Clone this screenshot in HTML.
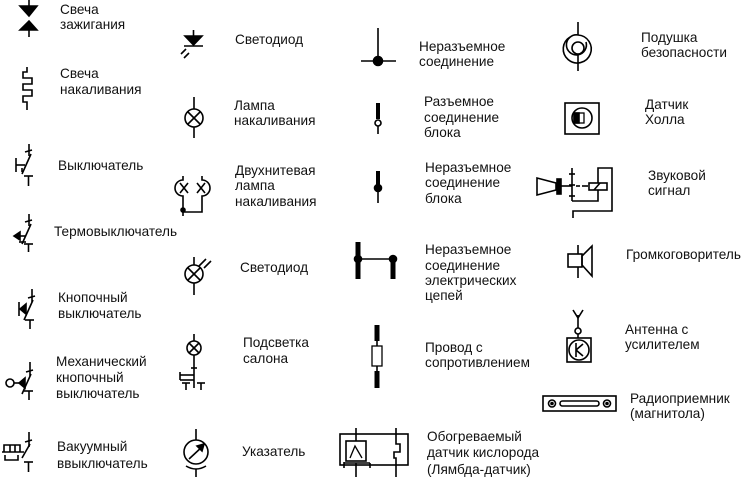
<!DOCTYPE html>
<html><head><meta charset="utf-8"><style>
html,body{margin:0;padding:0;background:#fff;}
svg{display:block}
text{font-family:"Liberation Sans",Arial,sans-serif;font-size:13.6px;fill:#111;}
</style></head><body>
<svg width="746" height="477" viewBox="0 0 746 477" xmlns="http://www.w3.org/2000/svg">
<g stroke="#000" stroke-width="1.6" fill="none">
<line x1="29" y1="0" x2="29" y2="8"/>
<polygon points="20,6 37,6 29,16" fill="#000"/>
<polygon points="20,30 37,30 29,21" fill="#000"/>
<line x1="29" y1="30" x2="29" y2="37"/>
<polyline points="27,67 27,72 23,72 23,78 32,78 32,84 23,84 23,90 32,90 32,96 23,96 23,102 27,102 27,110"/>
<line x1="29" y1="144" x2="29" y2="156"/><line x1="25" y1="152" x2="32" y2="150"/>
<line x1="31" y1="154" x2="22" y2="174"/>
<line x1="16" y1="158" x2="16" y2="172"/><line x1="16" y1="165" x2="25" y2="165"/>
<line x1="22" y1="172" x2="22" y2="168"/>
<line x1="24" y1="176" x2="33" y2="176"/><line x1="28.5" y1="176" x2="28.5" y2="186"/>
<line x1="29" y1="214" x2="29" y2="226"/><line x1="25" y1="222" x2="32" y2="220"/>
<line x1="31" y1="224" x2="22" y2="244"/>
<polygon points="14,236 20,232 20,240" fill="#000"/>
<line x1="20" y1="236" x2="26" y2="236"/><line x1="19" y1="242" x2="26" y2="242"/>
<line x1="24" y1="244" x2="33" y2="244"/><line x1="28.5" y1="244" x2="28.5" y2="252"/>
<line x1="32" y1="289" x2="32" y2="302"/><line x1="28" y1="298" x2="35" y2="296"/>
<line x1="33" y1="300" x2="24" y2="320"/>
<line x1="19" y1="302" x2="19" y2="316"/><polygon points="20,309 26,304 26,314" fill="#000"/>
<line x1="25" y1="320" x2="34" y2="320"/><line x1="30" y1="320" x2="30" y2="329"/>
<line x1="30" y1="362" x2="30" y2="376"/><line x1="26" y1="372" x2="33" y2="370"/>
<line x1="31" y1="374" x2="22" y2="394"/>
<circle cx="10" cy="383" r="4"/><line x1="14" y1="383" x2="19" y2="383"/>
<polygon points="19,383 25,378 25,388" fill="#000"/>
<line x1="24" y1="391" x2="33" y2="391"/><line x1="29" y1="391" x2="29" y2="400"/>
<line x1="29" y1="432" x2="29" y2="447"/><line x1="25" y1="442" x2="32" y2="440"/>
<line x1="30" y1="444" x2="22" y2="458"/>
<polyline points="4,452 4,445 20,445 20,452"/><line x1="2" y1="452" x2="24" y2="452"/>
<line x1="10" y1="445" x2="10" y2="452"/><line x1="15" y1="445" x2="15" y2="452"/>
<polyline points="5,455 5,460 18,460 18,455"/>
<line x1="24" y1="462" x2="33" y2="462"/><line x1="28.5" y1="462" x2="28.5" y2="472"/>

<polygon points="185,36 202,36 193.5,45" fill="#000"/>
<line x1="184" y1="46" x2="203" y2="46"/><line x1="193.5" y1="30" x2="193.5" y2="36"/>
<line x1="181" y1="54" x2="186" y2="49"/><line x1="184" y1="58" x2="189" y2="53"/>
<line x1="194" y1="97" x2="194" y2="109"/><circle cx="194" cy="118" r="9"/>
<line x1="188" y1="112" x2="200" y2="124"/><line x1="200" y1="112" x2="188" y2="124"/>
<line x1="194" y1="127" x2="194" y2="138"/>
<path d="M183,176 L183,180 A8,8 0 0 0 183,196 L183,212 L202,212 L202,196 A8,8 0 0 0 202,180 L202,176"/>
<line x1="180" y1="183" x2="188" y2="193"/><line x1="188" y1="183" x2="180" y2="193"/>
<line x1="197" y1="183" x2="205" y2="193"/><line x1="205" y1="183" x2="197" y2="193"/>
<circle cx="183" cy="210" r="2" fill="#000"/><line x1="183" y1="212" x2="183" y2="216"/>
<line x1="194" y1="257" x2="194" y2="265"/><circle cx="194" cy="274" r="9"/>
<line x1="188" y1="268" x2="200" y2="280"/><line x1="200" y1="268" x2="188" y2="280"/>
<line x1="194" y1="283" x2="194" y2="295"/>
<line x1="199" y1="266" x2="206" y2="259"/><line x1="204" y1="268" x2="211" y2="261"/>
<line x1="194" y1="334" x2="194" y2="341"/><circle cx="194" cy="348" r="7"/>
<line x1="189" y1="343" x2="199" y2="353"/><line x1="199" y1="343" x2="189" y2="353"/>
<line x1="194" y1="355" x2="194" y2="388"/><line x1="191" y1="368" x2="197" y2="368"/>
<line x1="180" y1="375" x2="194" y2="375"/><line x1="180" y1="380" x2="194" y2="380"/>
<line x1="180" y1="372" x2="180" y2="380"/>
<line x1="182" y1="383" x2="190" y2="383"/><line x1="186" y1="383" x2="186" y2="390"/>
<line x1="197" y1="383" x2="205" y2="383"/><line x1="201" y1="383" x2="201" y2="390"/>
<line x1="196" y1="429" x2="196" y2="440"/><circle cx="196" cy="452" r="12"/>
<line x1="189" y1="459" x2="203" y2="446"/><polygon points="204,444 197,446 202,451" fill="#000"/>
<path d="M186,466 Q196,472 206,466"/><line x1="196" y1="469" x2="196" y2="477"/>

<line x1="378" y1="28" x2="378" y2="61"/><line x1="361" y1="61" x2="396" y2="61"/>
<circle cx="378" cy="61" r="4.5" fill="#000"/>
<line x1="378" y1="103" x2="378" y2="119" stroke-width="4"/>
<circle cx="378" cy="123" r="3" fill="#fff"/><line x1="378" y1="126" x2="378" y2="134"/>
<line x1="378" y1="171" x2="378" y2="186" stroke-width="4"/>
<circle cx="378" cy="188" r="3.5" fill="#000"/><line x1="378" y1="190" x2="378" y2="203"/>
<line x1="358" y1="242" x2="358" y2="279" stroke-width="5"/>
<line x1="393" y1="258" x2="393" y2="279" stroke-width="5"/>
<line x1="358" y1="259" x2="393" y2="259"/>
<circle cx="358" cy="259" r="3.5" fill="#000"/><circle cx="393" cy="259" r="3.5" fill="#000"/>
<line x1="377" y1="325" x2="377" y2="341" stroke-width="5"/>
<line x1="377" y1="341" x2="377" y2="346"/>
<rect x="372" y="346" width="10" height="20" stroke-width="1.3"/>
<line x1="377" y1="366" x2="377" y2="371"/>
<line x1="377" y1="371" x2="377" y2="388" stroke-width="5"/>
<rect x="340" y="434" width="68" height="31"/>
<rect x="346" y="441" width="20" height="20"/>
<line x1="356" y1="428" x2="356" y2="441"/>
<polyline points="350,458 355,446 362,458" stroke-width="1.3"/>
<line x1="344" y1="462" x2="344" y2="468"/><line x1="344" y1="463" x2="370" y2="463"/><line x1="370" y1="463" x2="370" y2="468"/>
<line x1="356" y1="463" x2="356" y2="477"/>
<polyline points="396,428 396,444 400,444 400,452 394,452 394,458 396,458 396,477"/>

<line x1="578" y1="22" x2="578" y2="35"/>
<path d="M578,35 A14,14 0 1 1 570,37 M578,35 A10,10 0 1 0 586,42"/>
<circle cx="578" cy="48" r="6"/>
<line x1="578" y1="54" x2="578" y2="71"/>
<rect x="565" y="103" width="34" height="31"/>
<circle cx="582" cy="118" r="10"/>
<rect x="574" y="113" width="10" height="10" stroke-width="1.3"/>
<rect x="574" y="113" width="5" height="10" fill="#000"/>
<polygon points="537,178 556,183 556,190 537,195"/>
<rect x="557" y="179" width="4" height="15" fill="#000"/>
<line x1="561" y1="186" x2="572" y2="186"/>
<line x1="572" y1="168" x2="572" y2="201"/>
<line x1="569" y1="174" x2="575" y2="174"/><line x1="569" y1="185" x2="575" y2="185"/><line x1="569" y1="196" x2="575" y2="196"/>
<line x1="576" y1="186" x2="580" y2="186"/><line x1="582" y1="186" x2="588" y2="186"/>
<rect x="589" y="183" width="18" height="7"/><line x1="594" y1="190" x2="600" y2="183"/>
<polyline points="598,183 598,168 612,168 612,211 573,211 573,218"/>
<polyline points="572,201 598,201 598,190"/>
<line x1="578" y1="245" x2="578" y2="254"/>
<rect x="568" y="254" width="14" height="13"/>
<line x1="578" y1="267" x2="578" y2="278"/>
<polygon points="582,256 592,246 592,276 582,265"/>
<line x1="578" y1="315" x2="578" y2="328"/>
<polyline points="573,310 578,318 583,310"/>
<circle cx="578" cy="331" r="3"/><line x1="578" y1="334" x2="578" y2="338"/>
<rect x="567" y="338" width="24" height="24"/>
<circle cx="579" cy="350" r="10"/>
<line x1="576" y1="343" x2="576" y2="357"/><line x1="576" y1="350" x2="583" y2="344"/><line x1="576" y1="350" x2="583" y2="356"/>
<rect x="543" y="396" width="73" height="15"/>
<circle cx="552" cy="403.5" r="3.5"/><circle cx="552" cy="403.5" r="1" fill="#000"/>
<circle cx="607" cy="403.5" r="3.5"/><circle cx="607" cy="403.5" r="1" fill="#000"/>
<rect x="560" y="401" width="39" height="5" rx="2.5"/>
</g>

<text x="60" y="14">Свеча</text><text x="60" y="29">зажигания</text>
<text x="60" y="78">Свеча</text><text x="60" y="94">накаливания</text>
<text x="58" y="170">Выключатель</text>
<text x="54" y="236">Термовыключатель</text>
<text x="58" y="302">Кнопочный</text><text x="58" y="318">выключатель</text>
<text x="56" y="366">Механический</text><text x="56" y="382">кнопочный</text><text x="56" y="398">выключатель</text>
<text x="57" y="451">Вакуумный</text><text x="57" y="468">ввыключатель</text>

<text x="235" y="44">Светодиод</text>
<text x="234" y="110">Лампа</text><text x="234" y="125">накаливания</text>
<text x="235" y="175">Двухнитевая</text><text x="235" y="190">лампа</text><text x="235" y="206">накаливания</text>
<text x="240" y="272">Светодиод</text>
<text x="243" y="347">Подсветка</text><text x="243" y="363">салона</text>
<text x="242" y="456">Указатель</text>

<text x="419" y="51">Неразъемное</text><text x="419" y="66">соединение</text>
<text x="424" y="106">Разъемное</text><text x="424" y="122">соединение</text><text x="424" y="137">блока</text>
<text x="425" y="172">Неразъемное</text><text x="425" y="187">соединение</text><text x="425" y="203">блока</text>
<text x="425" y="254">Неразъемное</text><text x="425" y="270">соединение</text><text x="425" y="285">электрических</text><text x="425" y="300">цепей</text>
<text x="425" y="352">Провод с</text><text x="425" y="367">сопротивлением</text>
<text x="427" y="441">Обогреваемый</text><text x="427" y="457">датчик кислорода</text><text x="427" y="474">(Лямбда-датчик)</text>

<text x="641" y="42">Подушка</text><text x="641" y="57">безопасности</text>
<text x="645" y="109">Датчик</text><text x="645" y="124">Холла</text>
<text x="648" y="180">Звуковой</text><text x="648" y="195">сигнал</text>
<text x="626" y="259">Громкоговоритель</text>
<text x="625" y="334">Антенна с</text><text x="625" y="349">усилителем</text>
<text x="630" y="403">Радиоприемник</text><text x="630" y="418">(магнитола)</text>
</svg>
</body></html>
